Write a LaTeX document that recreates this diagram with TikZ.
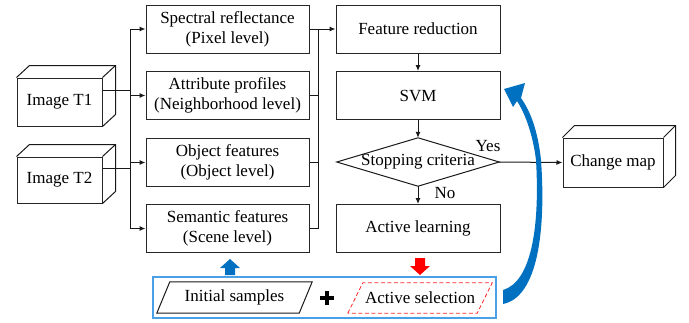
\documentclass[tikz,border=0pt]{standalone}
\usepackage{fontspec}
\setmainfont{Liberation Serif}
\usetikzlibrary{arrows.meta,calc}
\definecolor{lblue}{HTML}{0070C0}
\definecolor{cblue}{HTML}{4AA0E6}
\definecolor{lred}{HTML}{FF0000}
\begin{document}
\begin{tikzpicture}[x=1pt,y=-1pt,
  txt/.style={font=\fontsize{17}{20}\selectfont, align=center, inner sep=0pt},
  box/.style={txt, draw=black!85, line width=1pt, minimum width=163pt, minimum height=48pt},
  cubefront/.style={txt, draw=black!85, line width=1pt},
  line/.style={draw=black!90, line width=1pt},
  arr/.style={line, -{Latex[length=6pt,width=5pt]}}
]
\useasboundingbox (0,0) rectangle (689,322);

% feature boxes
\node[box] (f1) at (227.5,29) {Spectral reflectance\\(Pixel level)};
\node[box] (f2) at (227.5,95.5) {Attribute profiles\\(Neighborhood level)};
\node[box] (f3) at (227.5,162.5) {Object features\\(Object level)};
\node[box] (f4) at (227.5,228.5) {Semantic features\\(Scene level)};

% right column
\node[box, minimum width=164pt] (fr) at (418,29) {Feature reduction};
\node[box, minimum width=164pt] (svm) at (418,95.5) {SVM};
\node[txt, minimum width=162pt, minimum height=48pt] (sc) at (418,162) {Stopping criteria};
\draw[line] (sc.north) -- (sc.east) -- (sc.south) -- (sc.west) -- cycle;
\node[box, minimum width=164pt] (al) at (418,228.5) {Active learning};

% cuboids
\node[cubefront, minimum width=85pt, minimum height=48pt] (t1) at (59.5,102) {Image T1};
\node[cubefront, minimum width=85pt, minimum height=46pt] (t2) at (59.5,180) {Image T2};
\node[cubefront, minimum width=100pt, minimum height=49pt] (cm) at (613,162.5) {Change map};
\foreach \c/\dx/\dy in {t1/13/-12, t2/13/-12, cm/12/-12}{
  \draw[line] (\c.north west) -- ++(\dx,\dy) -- ($(\c.north east)+(\dx,\dy)$) -- ($(\c.south east)+(\dx,\dy)$) -- (\c.south east);
  \draw[line] (\c.north east) -- ++(\dx,\dy);
}

% left bus
\coordinate (lbus) at (130,0);
\coordinate (rbus) at (318,0);
\coordinate (t1o) at ([yshift=12pt]t1.east);
\coordinate (t2o) at ([yshift=12pt]t2.east);
\draw[line] (t1o) -- (t1o -| lbus);
\draw[line] (t2o) -- (t2o -| lbus);
\draw[line] (lbus |- f1) -- (lbus |- f4);
\foreach \n in {f1,f2,f3,f4} \draw[arr] (lbus |- \n) -- (\n.west);

% right bus
\draw[arr] (f1.east) -- (fr.west);
\foreach \n in {f2,f3,f4} \draw[line] (\n.east) -- (rbus |- \n);
\draw[line] (rbus |- f1) -- (rbus |- f4);

% flow
\draw[arr] (fr) -- (svm);
\draw[arr] (svm) -- (sc.north);
\draw[arr] (sc.south) -- (al);
\draw[arr] (sc.east) -- (cm.west);
\node[txt] (yes) at (488,146) {Yes};
\node[txt] (no) at (445,193) {No};

% bottom container
\node[draw=cblue, line width=1.2pt, minimum width=343pt, minimum height=41pt, inner sep=0pt] (cont) at (324.5,297.5) {};
\node[txt, minimum width=155pt, minimum height=31pt] (is) at (234.5,297.5) {Initial samples};
\draw[line] (is.south west) -- ($(is.north west)+(13,0)$) -- (is.north east) -- ($(is.south east)+(-13,0)$) -- cycle;
\node[txt, minimum width=144pt, minimum height=30pt] (as) at (420,298) {Active selection};
\draw[draw=lred!85, line width=0.8pt, dash pattern=on 4pt off 2.5pt] (as.south west) -- ($(as.north west)+(15,0)$) -- (as.north east) -- ($(as.south east)+(-15,0)$) -- cycle;
\node[minimum size=13pt, inner sep=0pt] (plus) at (327,298) {};
\draw[line width=3.2pt] (plus.west) -- (plus.east) (plus.north) -- (plus.south);

% block arrows
\fill[lblue] (225,275) -- (225,268) -- (220,268) -- (230,259) -- (240,268) -- (235,268) -- (235,275) -- cycle;
\fill[lred] (415,258) -- (415,266) -- (410,266) -- (420,275) -- (430,266) -- (425,266) -- (425,258) -- cycle;

% curved feedback arrow
\fill[lblue] (503,304) .. controls (538,297) and (546,230) .. (541,160)
  .. controls (538,132) and (531,112) .. (521,98)
  -- (525,83) -- (504,89) -- (513,107) -- (517,101)
  .. controls (526,115) and (533,136) .. (536,160)
  .. controls (540,228) and (531,282) .. (503,290) -- cycle;
\end{tikzpicture}
\end{document}
